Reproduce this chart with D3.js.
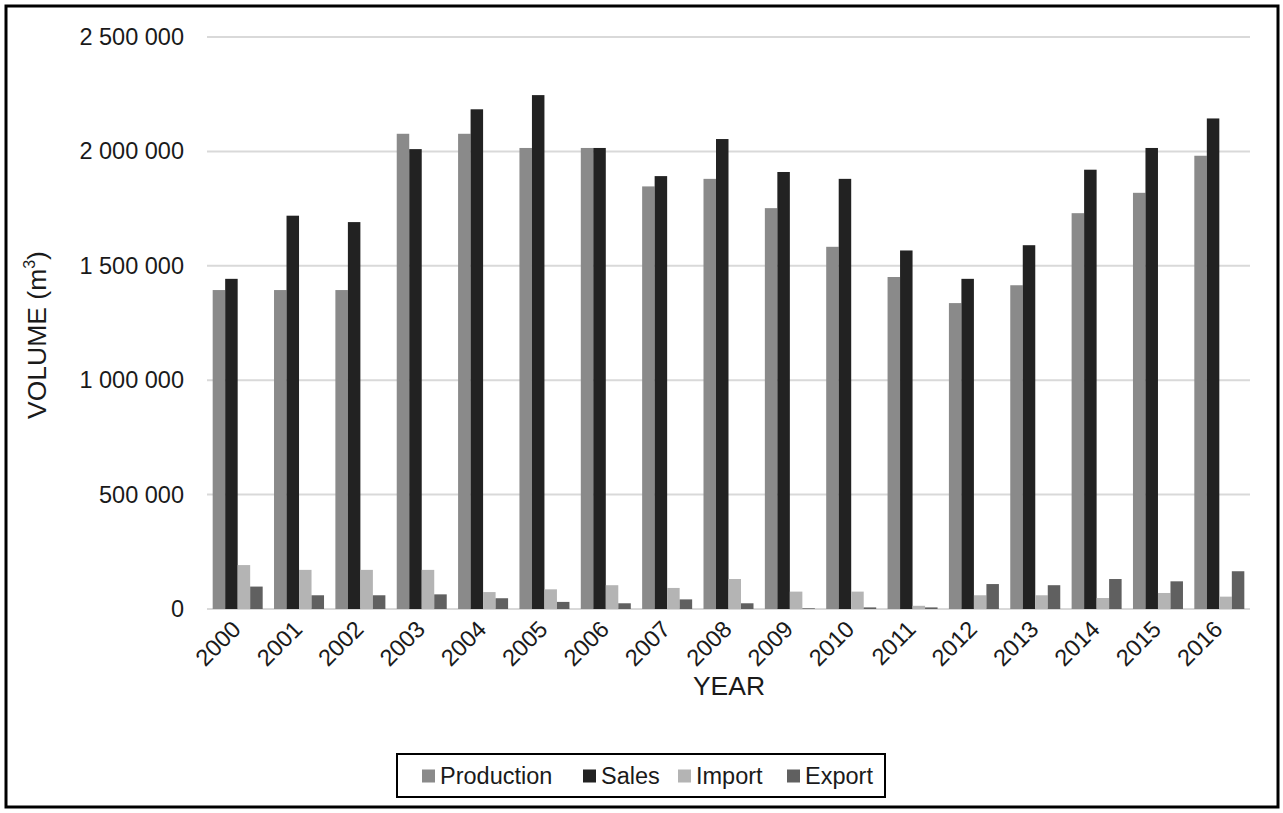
<!DOCTYPE html>
<html>
<head>
<meta charset="utf-8">
<script src="https://cdn.jsdelivr.net/npm/d3@7"></script>
<style>
  body { margin: 0; background: #fff; }
  svg text { font-family: "Liberation Sans", Arial, sans-serif; fill: #1a1a1a; }
</style>
</head>
<body>
<svg id="chart" width="1283" height="813"></svg>
<script>
// data (m3)
const years = ["2000","2001","2002","2003","2004","2005","2006","2007","2008","2009","2010","2011","2012","2013","2014","2015","2016"];
const production = [1394000,1394000,1394000,2077000,2077000,2015000,2015000,1847000,1880000,1752000,1583000,1451000,1337000,1415000,1730000,1819000,1981000];
const sales      = [1443000,1719000,1691000,2010000,2184000,2246000,2015000,1892000,2054000,1910000,1880000,1567000,1443000,1590000,1920000,2015000,2144000];
const imports    = [192000,171000,171000,171000,74000,86000,104000,92000,131000,76000,76000,14000,60000,60000,48000,70000,54000];
const exports    = [98000,60000,60000,64000,47000,31000,25000,42000,25000,3000,7000,7000,109000,104000,131000,121000,165000];
const seriesNames = ["Production","Sales","Import","Export"];
const yTicks = [0,500000,1000000,1500000,2000000,2500000];

const colors = ["#8a8a8a","#222222","#b4b4b4","#606060"];
const allSeries = [production, sales, imports, exports];

const svg = d3.select("#chart");
const plot = { left: 207, right: 1250, top: 37, bottom: 609 };

// frame round the whole picture
svg.append("rect")
  .attr("x", 6).attr("y", 6)
  .attr("width", 1272).attr("height", 801)
  .attr("fill", "none").attr("stroke", "#000").attr("stroke-width", 3);

const x = d3.scaleBand()
  .domain(years)
  .range([plot.left, plot.right])
  .paddingInner(0.185)
  .paddingOuter(0.0925);
const xs = d3.scaleBand()
  .domain(seriesNames)
  .range([0, x.bandwidth()]);
const y = d3.scaleLinear()
  .domain([0, 2500000])
  .range([plot.bottom, plot.top]);

const fmt = d3.formatLocale({ decimal: ",", thousands: " ", grouping: [3], currency: ["", ""] }).format(",d");

// gridlines
svg.append("g")
  .selectAll("line")
  .data(yTicks)
  .join("line")
    .attr("x1", plot.left).attr("x2", plot.right)
    .attr("y1", d => y(d)).attr("y2", d => y(d))
    .attr("stroke", "#d9d9d9").attr("stroke-width", 2);

// y axis labels
const yAxis = d3.axisLeft(y).tickValues(yTicks).tickFormat(fmt).tickSize(0).tickPadding(0);
svg.append("g")
  .attr("transform", `translate(184,0)`)
  .call(yAxis)
  .call(g => g.select(".domain").remove())
  .selectAll("text")
    .attr("font-size", 23.5)
    .attr("fill", "#1a1a1a");

// bars
const groups = svg.append("g")
  .selectAll("g")
  .data(years)
  .join("g")
    .attr("transform", d => `translate(${x(d)},0)`);

groups.selectAll("rect")
  .data((d, i) => seriesNames.map((s, k) => ({ s, k, v: allSeries[k][i] })))
  .join("rect")
    .attr("x", d => xs(d.s))
    .attr("width", xs.bandwidth())
    .attr("y", d => y(d.v))
    .attr("height", d => y(0) - y(d.v))
    .attr("fill", d => colors[d.k]);

// x axis labels
const xAxis = d3.axisBottom(x).tickSize(0).tickPadding(0);
svg.append("g")
  .attr("transform", `translate(0,${plot.bottom + 10})`)
  .call(xAxis)
  .call(g => g.select(".domain").remove())
  .selectAll("text")
    .attr("font-size", 23.5)
    .attr("fill", "#1a1a1a")
    .attr("text-anchor", "end")
    .attr("dy", "0.7em")
    .attr("transform", "translate(-7,0) rotate(-45)");

// axis titles
svg.append("text")
  .attr("x", 729).attr("y", 695)
  .attr("text-anchor", "middle")
  .attr("font-size", 26.5)
  .text("YEAR");

const yt = svg.append("text")
  .attr("transform", "translate(46,335) rotate(-90)")
  .attr("text-anchor", "middle")
  .attr("font-size", 26.5);
yt.append("tspan").text("VOLUME  (m");
yt.append("tspan").attr("font-size", 16).attr("dy", -11).text("3");
yt.append("tspan").attr("dy", 11).text(")");

// legend
const legend = svg.append("g");
legend.append("rect")
  .attr("x", 397).attr("y", 754)
  .attr("width", 488).attr("height", 43)
  .attr("fill", "#fff").attr("stroke", "#000").attr("stroke-width", 2);
const legendX = [422, 583, 678, 787];
const items = legend.selectAll("g.item")
  .data(seriesNames)
  .join("g")
    .attr("class", "item")
    .attr("transform", (d, i) => `translate(${legendX[i]},776)`);
items.append("rect")
  .attr("x", 0).attr("y", -6.5)
  .attr("width", 13).attr("height", 13)
  .attr("fill", (d, i) => colors[i]);
items.append("text")
  .attr("x", 18).attr("dy", "0.36em")
  .attr("font-size", 23.5)
  .text(d => d);
</script>
</body>
</html>
